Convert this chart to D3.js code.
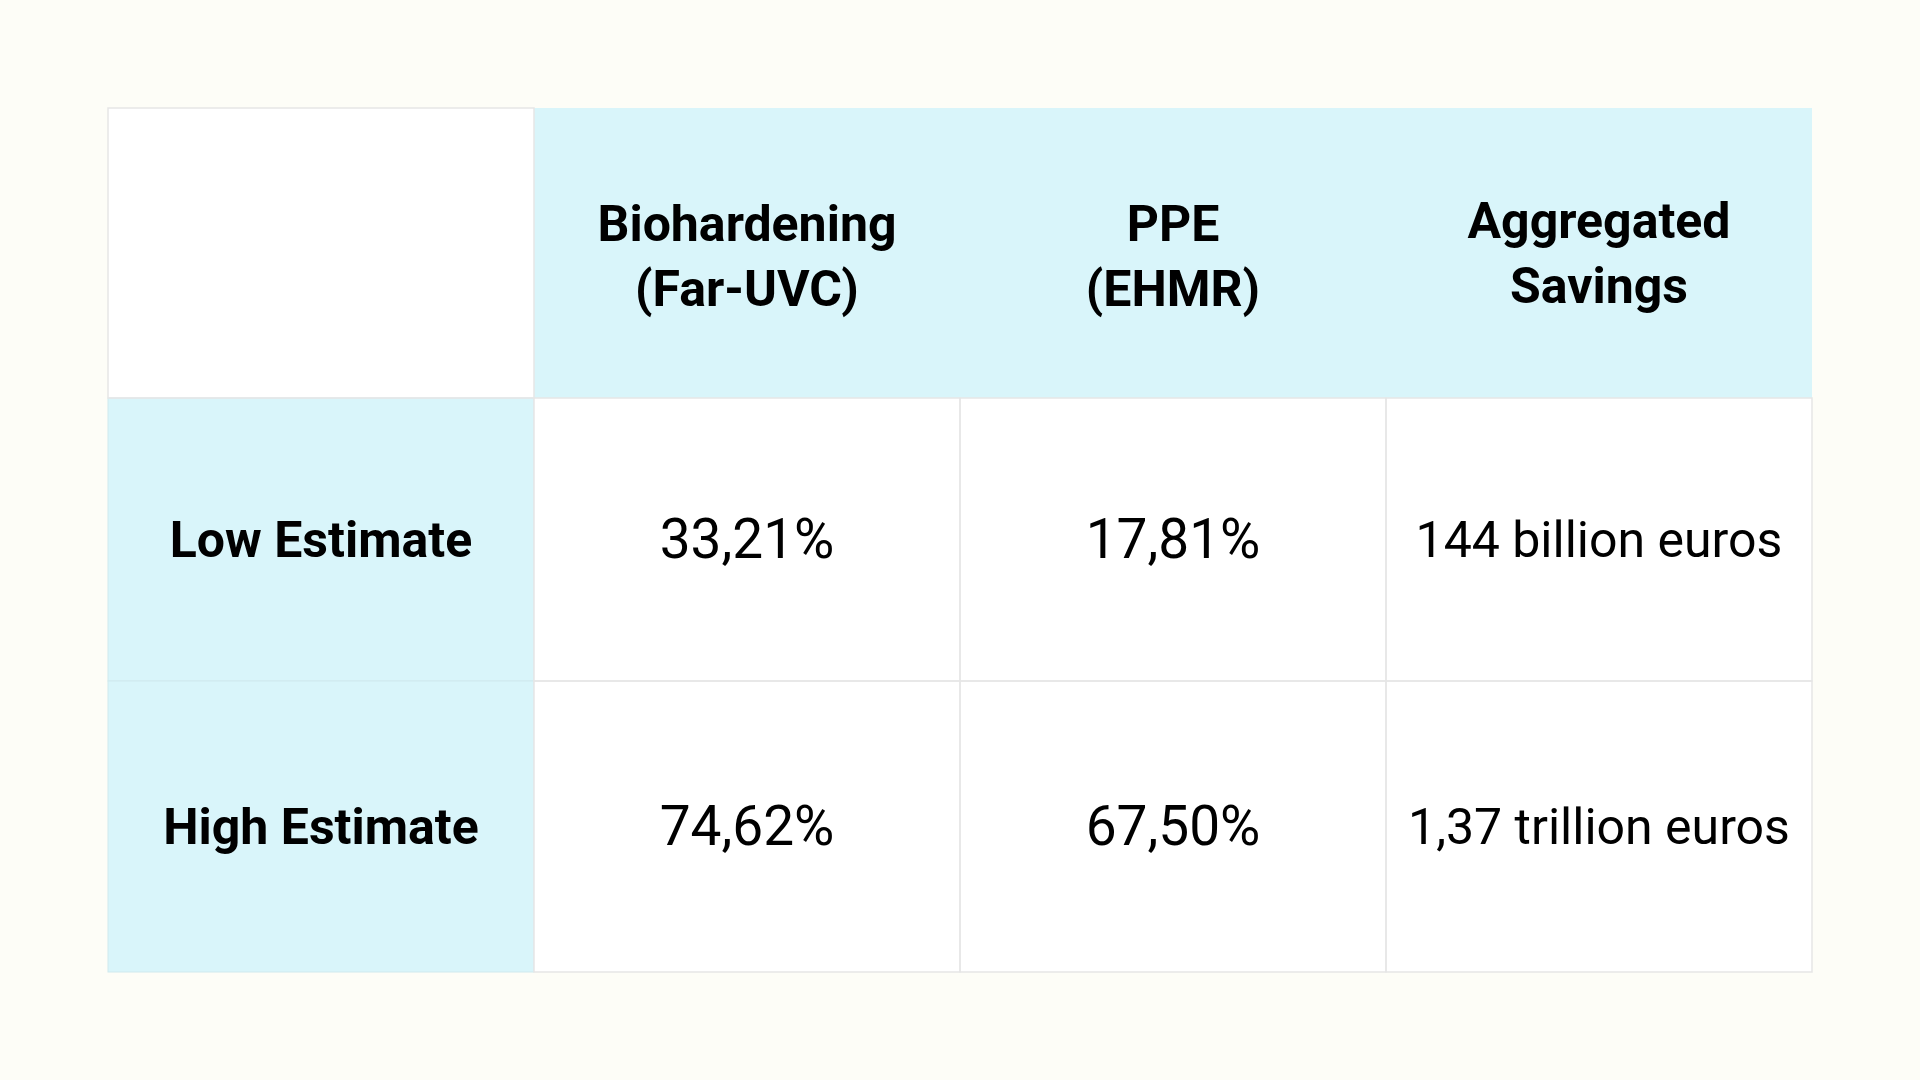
<!DOCTYPE html>
<html>
<head>
<meta charset="utf-8">
<script src="https://cdn.jsdelivr.net/npm/d3@7"></script>
<style>
  html, body { margin: 0; padding: 0; background: #fdfdf7; }
  svg { display: block; }
</style>
</head>
<body>
<div id="chart"></div>
<script>
// data of the table
var columnHeaders = [["Biohardening", "(Far-UVC)"], ["PPE", "(EHMR)"], ["Aggregated", "Savings"]];
var rowLabels = ["Low Estimate", "High Estimate"];
var biohardening = ["33,21%", "74,62%"];
var ppe = ["17,81%", "67,50%"];
var aggregated = ["144 billion euros", "1,37 trillion euros"];

var width = 1920, height = 1080;
var table = {left: 108, top: 108, right: 1812};
var rowHeights = [290, 283, 291];   // header, low, high

var svg = d3.select("#chart").append("svg")
  .attr("width", width)
  .attr("height", height);

svg.append("rect")
  .attr("width", width).attr("height", height)
  .attr("fill", "#fdfdf7");

// columns: label column + 3 data columns
var x = d3.scaleBand()
  .domain(d3.range(4))
  .range([table.left, table.right]);

var rowTops = [table.top];
rowHeights.forEach(function(h, i) { rowTops.push(rowTops[i] + h); });

var cyan = "#d9f5fa";
var font = "Roboto, 'Noto Sans', sans-serif";

// build the cells
var cells = [];
cells.push({r: 0, c: 0, fill: "#ffffff", lines: [], kind: "corner"});
columnHeaders.forEach(function(h, i) {
  cells.push({r: 0, c: i + 1, fill: cyan, lines: h, kind: "head"});
});
rowLabels.forEach(function(lab, i) {
  cells.push({r: i + 1, c: 0, fill: cyan, lines: [lab], kind: "rowhead"});
  cells.push({r: i + 1, c: 1, fill: "#ffffff", lines: [biohardening[i]], kind: "value"});
  cells.push({r: i + 1, c: 2, fill: "#ffffff", lines: [ppe[i]], kind: "value"});
  cells.push({r: i + 1, c: 3, fill: "#ffffff", lines: [aggregated[i]], kind: "text"});
});

var g = svg.selectAll(".cell")
  .data(cells)
  .enter().append("g")
  .attr("class", "cell");

// cyan fills first
g.append("rect")
  .attr("x", function(d) { return x(d.c); })
  .attr("y", function(d) { return rowTops[d.r]; })
  .attr("width", x.bandwidth())
  .attr("height", function(d) { return rowHeights[d.r]; })
  .attr("fill", function(d) { return d.fill; })
  .attr("stroke", function(d) { return d.fill === cyan ? (d.kind === "head" ? "none" : "#cfe9ee") : "none"; })
  .attr("stroke-width", 1);

// grey borders on white cells
svg.selectAll(".border")
  .data(cells.filter(function(d) { return d.fill !== cyan; }))
  .enter().append("rect")
  .attr("class", "border")
  .attr("x", function(d) { return x(d.c); })
  .attr("y", function(d) { return rowTops[d.r]; })
  .attr("width", x.bandwidth())
  .attr("height", function(d) { return rowHeights[d.r]; })
  .attr("fill", "none")
  .attr("stroke", "#e6e6e6")
  .attr("stroke-width", 1.5);

// texts
var styles = {
  head:    {size: 50, weight: 700, base: -12, gap: 65},
  rowhead: {size: 50, weight: 700, base: 17,  gap: 0},
  value:   {size: 55, weight: 400, base: 18,  gap: 0},
  text:    {size: 50, weight: 400, base: 17,  gap: 0}
};

g.each(function(d) {
  var s = styles[d.kind];
  if (!s) return;
  var cx = x(d.c) + x.bandwidth() / 2;
  var cy = rowTops[d.r] + rowHeights[d.r] / 2;
  // the last header sits a little higher in the original
  var shift = (d.kind === "head" && d.c === 3) ? -3 : 0;
  d3.select(this).selectAll("text")
    .data(d.lines)
    .enter().append("text")
    .attr("x", cx)
    .attr("y", function(t, i) { return cy + s.base + shift + i * s.gap; })
    .attr("text-anchor", "middle")
    .attr("font-family", font)
    .attr("font-size", s.size + "px")
    .attr("font-weight", s.weight)
    .attr("fill", "#000000")
    .text(function(t) { return t; });
});
</script>
</body>
</html>
